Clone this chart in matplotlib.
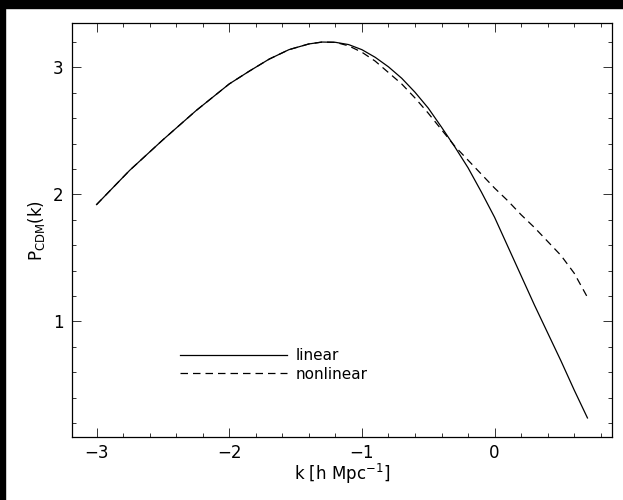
import numpy as np
import matplotlib
matplotlib.use("Agg")
import matplotlib.pyplot as plt
from matplotlib.patches import Rectangle
from matplotlib.ticker import MultipleLocator

# log10 k and log10 P(k)
k_lin = [-3.0, -2.75, -2.5, -2.25, -2.0, -1.85, -1.7, -1.55, -1.4, -1.3, -1.2,
         -1.1, -1.0, -0.9, -0.8, -0.7, -0.6, -0.5, -0.4, -0.3, -0.2, -0.1,
         0.0, 0.1, 0.2, 0.3, 0.4, 0.5, 0.6, 0.7]
p_lin = [1.92, 2.19, 2.43, 2.66, 2.87, 2.97, 3.065, 3.14, 3.185, 3.20, 3.198,
         3.18, 3.14, 3.08, 3.005, 2.915, 2.805, 2.68, 2.53, 2.375, 2.21, 2.02,
         1.82, 1.59, 1.36, 1.13, 0.91, 0.69, 0.46, 0.24]

k_nl = k_lin
p_nl = [1.92, 2.19, 2.43, 2.66, 2.87, 2.97, 3.065, 3.14, 3.185, 3.20, 3.198,
        3.17, 3.12, 3.05, 2.96, 2.87, 2.76, 2.64, 2.51, 2.38, 2.27, 2.16,
        2.05, 1.95, 1.84, 1.74, 1.63, 1.52, 1.38, 1.19]

fig = plt.figure(figsize=(6.23, 5.0), dpi=100)
ax = fig.add_axes([72 / 623, 1 - 437 / 500, 540 / 623, 414 / 500])

ax.plot(k_lin, p_lin, color="black", lw=0.9, label="linear")
ax.plot(k_nl, p_nl, color="black", lw=0.9, ls=(0, (6, 4)), label="nonlinear")

ax.set_xlim(-3.185, 0.885)
ax.set_ylim(0.09, 3.35)
ax.xaxis.set_major_locator(MultipleLocator(1))
ax.xaxis.set_minor_locator(MultipleLocator(0.2))
ax.yaxis.set_major_locator(MultipleLocator(1))
ax.yaxis.set_minor_locator(MultipleLocator(0.2))
ax.tick_params(which="both", direction="in", top=True, right=True, width=0.7,
               color="#333333")
ax.tick_params(which="major", length=6.5, labelsize=12)
ax.tick_params(axis="x", which="major", pad=5)
ax.tick_params(axis="y", which="major", pad=6)
ax.tick_params(which="minor", length=3.2)
for s in ax.spines.values():
    s.set_linewidth(0.9)

ax.set_xlabel(r"k [h Mpc$^{-1}$]", fontsize=12, labelpad=0)
ax.set_ylabel(r"P$_{\rm CDM}$(k)", fontsize=12, labelpad=4)

ax.legend(loc="upper left", bbox_to_anchor=(0.2, 0.215), frameon=False,
          borderpad=0, borderaxespad=0, handlelength=7.0, handletextpad=0.6,
          labelspacing=0.25, fontsize=11)

# black strips along the top and left edge of the original image
fig.patches.append(Rectangle((0, 1 - 8 / 500), 1, 8 / 500, transform=fig.transFigure,
                             color="black", zorder=10))
fig.patches.append(Rectangle((0, 0), 5 / 623, 1, transform=fig.transFigure,
                             color="black", zorder=10))

fig.savefig("out.png", dpi=100)
